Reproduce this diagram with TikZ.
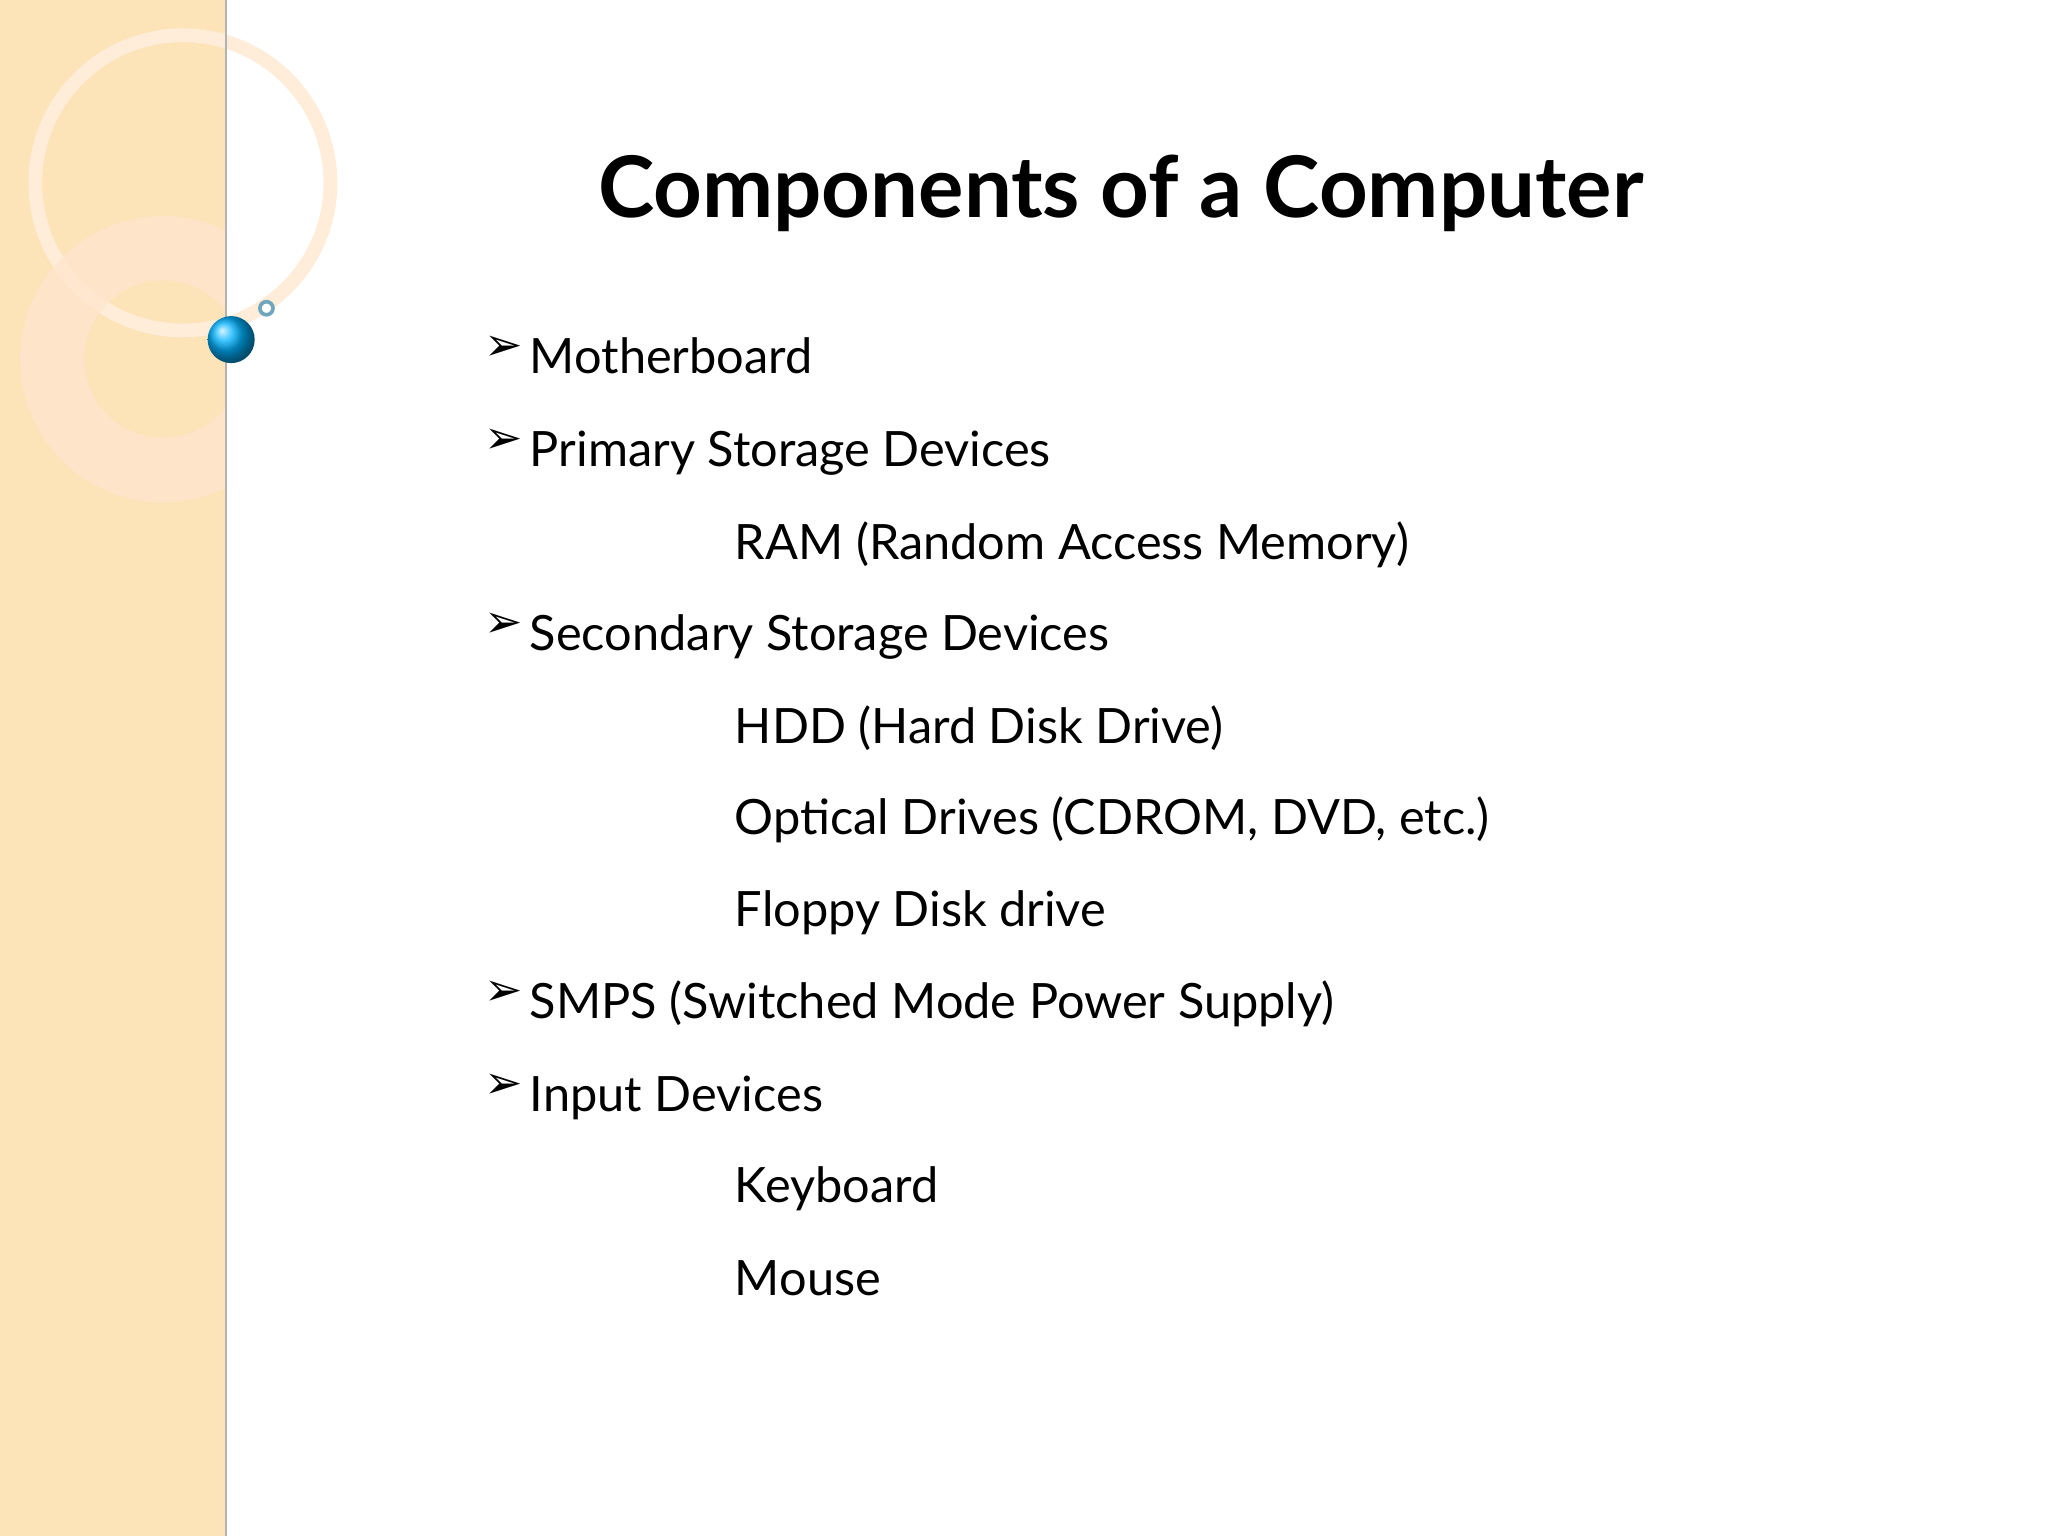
\documentclass[tikz,border=0pt]{standalone}
\usepackage{fontspec}
\setmainfont{Lato}
\begin{document}
\begin{tikzpicture}[x=0.01cm,y=-0.01cm,
  item/.style={anchor=base west,font=\fontsize{10.6pt}{12pt}\selectfont,inner sep=0pt},
  bul/.style={anchor=base west,font=\fontsize{10pt}{12pt}\selectfont,inner sep=0pt}]
\useasboundingbox (0,0) rectangle (1568,1176);
\fill[white] (0,0) rectangle (1568,1176);
\fill[yellow!20!orange!25!white] (0,0) rectangle (173,1176);
\fill[black!15,opacity=0.5] (0,0) -- (140,0) arc[start angle=0,end angle=-90,radius=140] -- cycle;
\draw[white!85!orange,line width=3pt] (140,140) circle[radius=113];
\begin{scope}
\clip (0,0) rectangle (173,1176);
\draw[white!80!orange,line width=14pt,opacity=0.8] (125,275) circle[radius=85];
\end{scope}
\draw[black!30,line width=0.6pt] (173,0) -- (173,1176);
\shade[ball color=cyan!70!blue] (177,260) circle[radius=18];
\draw[cyan!60!black!70,line width=0.8pt,fill=white] (204,236) circle[radius=5];
\node[font=\fontsize{18.5pt}{22pt}\selectfont\bfseries] (title) at (858,148) {Components of a Computer};
\foreach \n/\y/\t in {a/286/Motherboard,b/357/Primary Storage Devices,c/498/Secondary Storage Devices,d/780/SMPS (Switched Mode Power Supply),e/851/Input Devices}{
  \node[bul] (bul\n) at (370,276-286+\y) {\fontspec{DejaVu Sans}➢};
  \node[item] (it\n) at (405,\y) {\t};}
\foreach \n/\y/\t in {f/428/RAM (Random Access Memory),g/569/HDD (Hard Disk Drive),h/639/{Optical Drives (CDROM, DVD, etc.)},i/709/Floppy Disk drive,j/921/Keyboard,k/992/Mouse}{
  \node[item] (sub\n) at (562,\y) {\t};}
\end{tikzpicture}
\end{document}
